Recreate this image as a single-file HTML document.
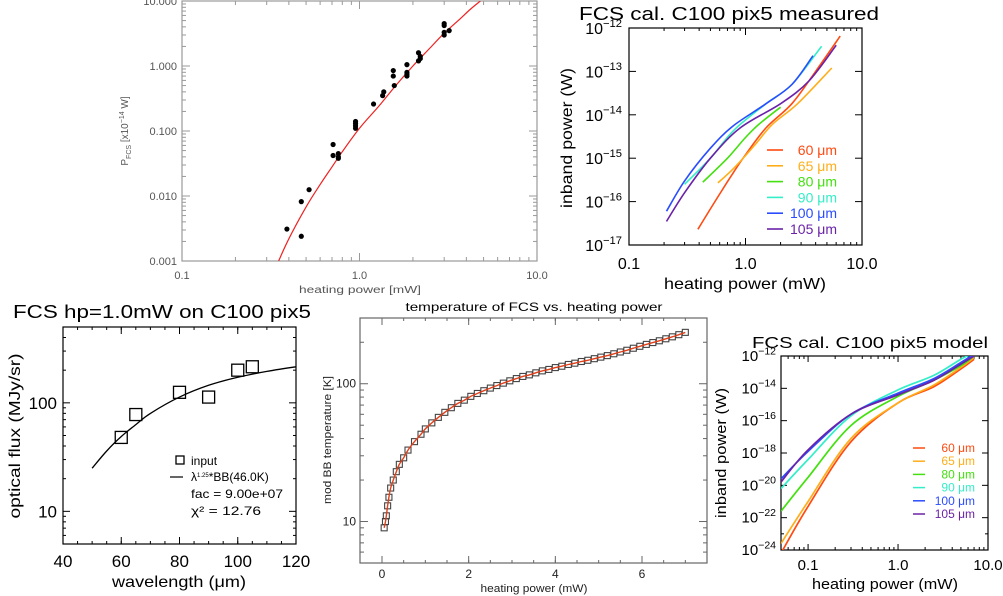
<!DOCTYPE html>
<html><head><meta charset="utf-8"><style>
html,body{margin:0;padding:0;background:#fff;}
svg{display:block;font-family:"Liberation Sans",sans-serif;}
</style></head><body>
<svg id="chart" width="1003" height="596" viewBox="0 0 1003 596" xmlns="http://www.w3.org/2000/svg"></svg>
<script>
// ---- Panel 1 data: P_FCS vs heating power ----
const p1X = [0.39,0.47,0.47,0.52,0.71,0.71,0.76,0.76,0.76,0.95,0.95,0.95,0.95,1.2,1.35,1.37,1.55,1.55,1.57,1.85,1.85,1.85,1.85,2.15,2.15,2.2,2.2,3.0,3.0,3.0,3.0,3.2];
const p1Y = [0.0031,0.0082,0.0024,0.0125,0.062,0.042,0.045,0.038,0.040,0.14,0.12,0.11,0.13,0.26,0.35,0.40,0.85,0.70,0.50,1.05,0.80,0.70,0.75,1.6,1.2,1.3,1.4,4.5,4.2,3.0,3.3,3.5];
const p1FitX = [0.35,0.4,0.5,0.6,0.7,0.8,1.0,1.3,1.6,2.0,2.5,3.0,3.6,4.2,4.8];
const p1FitY = [0.001,0.0022,0.0068,0.015,0.028,0.048,0.11,0.25,0.5,1.0,1.9,3.2,5.0,7.4,10];
const p1XTicks = [0.1,1,10], p1XLabels = ["0.1","1.0","10.0"];
const p1YTicks = [10,1,0.1,0.01,0.001], p1YLabels = ["10.000","1.000","0.100","0.010","0.001"];
// ---- Panel 2 data: measured inband power ----
const p2Names = ["60","65","80","90","100","105"];
const p2Colors = ["#ff4a10","#ffae1a","#44e010","#33eec8","#2a4cff","#6a22a8"];
const p2X = [
 [0.39,0.6,0.8,1.0,1.5,2.5,4,6.5],
 [0.58,0.8,1.2,1.7,2.8,5.5],
 [0.43,0.7,1.0,1.3,2.0],
 [0.3,0.5,0.8,1.5,2.5,4.5],
 [0.21,0.3,0.5,0.78,1.5,2.5,3.8],
 [0.21,0.3,0.5,0.9,2.0,3.5,6.0]];
const p2Y = [
 [2.3e-17,1.5e-16,5e-16,1.2e-15,5e-15,1.8e-14,1e-13,6.5e-13],
 [2.7e-16,6e-16,2e-15,6e-15,1.8e-14,1.2e-13],
 [2.8e-16,1e-15,3e-15,6e-15,1.5e-14],
 [2.5e-16,1e-15,4.5e-15,1.8e-14,5e-14,3.8e-13],
 [6e-17,3e-16,1.7e-15,5.5e-15,1.8e-14,5e-14,2.3e-13],
 [3.5e-17,1.6e-16,1e-15,5e-15,1.8e-14,6e-14,4e-13]];
const p2YExp = [-12,-13,-14,-15,-16,-17];
const p2XTicks = [0.1,1,10], p2XLabels = ["0.1","1.0","10.0"];
// ---- Panel 3 data: optical flux vs wavelength ----
const p3Wl = [60,65,80,90,100,105];
const p3Flux = [48,78,125,113,200,215];
const p3FitWl = [50,55,60,65,70,80,90,100,110,120];
const p3FitFlux = [25,36,49,63,80,113,145,172,195,215];
const p3XTicks = [40,60,80,100,120];
const p3YTicks = [100,10], p3YLabels = ["100","10"];
// ---- Panel 4 data: temperature vs heating power ----
const p4X = [0.05,0.08,0.1,0.13,0.16,0.2,0.26,0.33,0.4,0.5,0.6,0.75,0.9,1.0,1.15,1.3,1.45,1.6,1.75,1.9,2.05,2.2,2.35,2.5,2.65,2.8,2.95,3.1,3.25,3.4,3.55,3.7,3.85,4.0,4.15,4.3,4.45,4.6,4.75,4.9,5.05,5.2,5.35,5.5,5.65,5.8,5.95,6.1,6.25,6.4,6.55,6.7,6.85,7.0];
const p4T = [9.0,10,11,13,15,17.5,20,23,26,29,33,38,43,47,52,57,62,67,72,76,81,85,89,93,97,101,105,109,113,116,120,124,127,131,134,138,141,145,148,152,156,160,165,170,175,181,187,193,199,205,212,219,227,236];
const p4XTicks = [0,2,4,6];
const p4YTicks = [100,10], p4YLabels = ["100","10"];
// ---- Panel 5 data: model inband power (log10 W) ----
const p5X = [0.05,0.1,0.3,1,2.5,5,7];
const p5LogY = [
 [-24.2,-21.3,-17.3,-14.9,-13.9,-12.8,-12.2],
 [-23.6,-21.0,-17.1,-14.9,-13.8,-12.7,-12.1],
 [-21.6,-19.5,-16.3,-14.5,-13.5,-12.6,-12.0],
 [-20.2,-18.4,-15.7,-14.1,-13.2,-12.2,-11.8],
 [-19.6,-17.9,-15.6,-14.3,-13.4,-12.4,-11.9],
 [-19.8,-17.8,-15.6,-14.4,-13.5,-12.5,-12.0]];
const p5YExp = [-12,-14,-16,-18,-20,-22,-24];
const p5XTicks = [0.1,1,10], p5XLabels = ["0.1","1.0","10.0"];

const NS = "http://www.w3.org/2000/svg";
const svg = document.getElementById('chart');
function el(tag, attrs, parent){
  const e = document.createElementNS(NS, tag);
  for (const k in attrs) e.setAttribute(k, attrs[k]);
  (parent||svg).appendChild(e);
  return e;
}
function logS(d0,d1,p0,p1){ const a=Math.log10(d0), b=Math.log10(d1); return v => p0+(Math.log10(v)-a)/(b-a)*(p1-p0); }
function linS(d0,d1,p0,p1){ return v => p0+(v-d0)/(d1-d0)*(p1-p0); }
function txt(x,y,s,size,anchor,color,parent,len){
  const a = {x:x,y:y,'font-size':size,'text-anchor':anchor||'middle',fill:color||'#000'};
  if(len){a.textLength=len; a.lengthAdjust='spacingAndGlyphs';}
  const t = el('text',a,parent);
  t.textContent = s; return t;
}
function vtxt(cx,cy,s,size,color,parent,len){
  const t=el('text',{x:0,y:0,'font-size':size,fill:color,'text-anchor':'middle',transform:'translate('+cx+','+cy+') rotate(-90)',textLength:len,lengthAdjust:'spacingAndGlyphs'},parent);
  t.textContent=s; return t;
}
function expLabel(x,y,e,size,parent){
  const t = el('text',{x:x,y:y,'font-size':size,'text-anchor':'end'},parent);
  const a = el('tspan',{},t); a.textContent='10';
  const b = el('tspan',{dy:-size*0.45,'font-size':size*0.7},t); b.textContent='\u2212'+Math.abs(e);
  return t;
}
function box(g,L,T,R,B,color){
  const r = el('rect',{x:L,y:T,width:R-L,height:B-T,fill:'none',stroke:color,'stroke-width':1.2},g);
  
  
}
function tickX(g,x,T,B,len,color){
  el('line',{x1:x,y1:B,x2:x,y2:B-len,stroke:color},g);
  el('line',{x1:x,y1:T,x2:x,y2:T+len,stroke:color},g);
}
function tickY(g,y,L,R,len,color){
  el('line',{x1:L,y1:y,x2:L+len,y2:y,stroke:color},g);
  el('line',{x1:R,y1:y,x2:R-len,y2:y,stroke:color},g);
}
function logMinorX(g,sx,d0,d1,T,B,len,color){
  for(let e=Math.floor(Math.log10(d0));e<Math.log10(d1);e++) for(let m=2;m<10;m++){const v=m*Math.pow(10,e); if(v>d0&&v<d1) tickX(g,sx(v),T,B,len,color);}
}
function logMinorY(g,sy,d0,d1,L,R,len,color){
  for(let e=Math.floor(Math.log10(d0));e<Math.log10(d1);e++) for(let m=2;m<10;m++){const v=m*Math.pow(10,e); if(v>d0&&v<d1) tickY(g,sy(v),L,R,len,color);}
}
function poly(g,xs,ys,sx,sy,color,w){
  return el('polyline',{points:xs.map((x,i)=>sx(x).toFixed(1)+','+sy(ys[i]).toFixed(1)).join(' '),fill:'none',stroke:color,'stroke-width':w||1.3},g);
}
function smooth(g,xs,ys,sx,sy,color,w){
  const P = xs.map((x,i)=>[sx(x),sy(ys[i])]);
  let d='M'+P[0][0].toFixed(1)+','+P[0][1].toFixed(1);
  for(let i=0;i<P.length-1;i++){
    const p0=P[i-1]||P[i], p1=P[i], p2=P[i+1], p3=P[i+2]||P[i+1];
    const c1=[p1[0]+(p2[0]-p0[0])/6, p1[1]+(p2[1]-p0[1])/6];
    const c2=[p2[0]-(p3[0]-p1[0])/6, p2[1]-(p3[1]-p1[1])/6];
    d+=' C'+c1.map(v=>v.toFixed(1)).join(',')+' '+c2.map(v=>v.toFixed(1)).join(',')+' '+p2.map(v=>v.toFixed(1)).join(',');
  }
  return el('path',{d:d,fill:'none',stroke:color,'stroke-width':w||1.3},g);
}
function clip(id,L,T,R,B){
  const c = el('clipPath',{id:id}); el('rect',{x:L,y:T,width:R-L,height:B-T},c);
}

// ================= Panel 1 =================
{
  const g = el('g',{});
  
  
  const L=182,R=537,T=1,B=261, col='#999';
  const sx=logS(0.1,10,L,R), sy=logS(0.001,10,B,T);
  box(g,L,T,R,B,col);
  logMinorX(g,sx,0.1,10,T,B,4,col); logMinorY(g,sy,0.001,10,L,R,4,col);
  p1XTicks.forEach((v,i)=>{tickX(g,sx(v),T,B,8,col); const t=txt(sx(v),279,p1XLabels[i],11,'middle','#555',g);
     });
  p1YTicks.forEach((v,i)=>{tickY(g,sy(v),L,R,8,col); const t=txt(177,sy(v)+4,p1YLabels[i],11,'end','#555',g);
     });
  const xl = txt(360,293,'heating power [mW]',10,'middle','#555',g,122);
   
  const yl = el('text',{x:0,y:0,'font-size':10,fill:'#555','text-anchor':'middle',transform:'translate(128,131) rotate(-90)'},g);
   
  const a=el('tspan',{},yl); a.textContent='P';
  const b=el('tspan',{dy:3,'font-size':7},yl); b.textContent='FCS';
  const c=el('tspan',{dy:-3},yl); c.textContent=' [x10';
  const d=el('tspan',{dy:-4,'font-size':7},yl); d.textContent='\u221214';
  const e=el('tspan',{dy:4},yl); e.textContent=' W]';
  clip('c1',L,T,R,B);
  const fit = smooth(g,p1FitX,p1FitY,sx,sy,'#ee2222',1.2);
  fit.setAttribute('clip-path','url(#c1)');
   
  p1X.forEach((x,i)=>{const p=el('circle',{cx:sx(x),cy:sy(p1Y[i]),r:2.6,fill:'#000'},g);
     });
}

// ================= Panel 2 =================
{
  const g = el('g',{});
  
  
  const L=629,R=862,T=28,B=245;
  const sx=logS(0.1,10,L,R), sy=logS(1e-17,1e-12,B,T);
  const ti=txt(729,20,'FCS cal. C100 pix5 measured',18,'middle','#000',g,300);
   
  box(g,L,T,R,B,'#000');
  logMinorX(g,sx,0.1,10,T,B,3,'#000');
  p2XTicks.forEach((v,i)=>{tickX(g,sx(v),T,B,7,'#000'); const t=txt(sx(v),269,p2XLabels[i],16,'middle','#000',g);
     });
  p2YExp.forEach(e=>{const y=sy(Math.pow(10,e)); tickY(g,y,L,R,7,'#000'); const t=expLabel(622,y+6,e,16,g);
     });
  const xl=txt(745,289,'heating power (mW)',16,'middle','#000',g,162);
   
  const yl=vtxt(572,138,'inband power (W)',16,'#000',g,140);
   
  p2Names.forEach((n,i)=>{
    const s=smooth(g,p2X[i],p2Y[i],sx,sy,p2Colors[i],1.6);
     
    const y=150+i*15.8;
    const ll=el('line',{x1:767,y1:y,x2:783,y2:y,stroke:p2Colors[i],'stroke-width':1.6},g);
     
    const t=txt(837,y+5,n+' \u03bcm',14,'end',p2Colors[i],g);
     
  });
}

// ================= Panel 3 =================
{
  const g = el('g',{});
  
  
  const L=63,R=296,T=327,B=544;
  const sx=linS(40,120,L,R), sy=logS(5,500,B,T);
  const ti=txt(162,318,'FCS hp=1.0mW on C100 pix5',18,'middle','#000',g,298);
   
  box(g,L,T,R,B,'#000');
  for(let v=45;v<120;v+=5) tickX(g,sx(v),T,B,3,'#000');
  logMinorY(g,sy,5,500,L,R,3,'#000');
  p3XTicks.forEach(v=>{tickX(g,sx(v),T,B,7,'#000'); const t=txt(sx(v),567,String(v),17,'middle','#000',g);
     });
  p3YTicks.forEach((v,i)=>{tickY(g,sy(v),L,R,7,'#000'); const t=txt(57,sy(v)+6,p3YLabels[i],17,'end','#000',g);
     });
  const xl=txt(179,587,'wavelength (\u03bcm)',16,'middle','#000',g,134);
   
  const yl=vtxt(20,436,'optical flux (MJy/sr)',16,'#000',g,165);
   
  const f=smooth(g,p3FitWl,p3FitFlux,sx,sy,'#000',1.3);
   
  p3Wl.forEach((w,i)=>{const s=el('rect',{x:sx(w)-6,y:sy(p3Flux[i])-6,width:12,height:12,fill:'none',stroke:'#000','stroke-width':1.3},g);
     });
  const lg=el('g',{},g);
   
  el('rect',{x:176,y:456,width:8,height:8,fill:'none',stroke:'#000','stroke-width':1.3},lg);
  txt(191,465,'input',12,'start','#000',lg);
  el('line',{x1:170,y1:477,x2:183,y2:477,stroke:'#000','stroke-width':1.2},lg);
  const t2=el('text',{x:191,y:481,'font-size':12},lg);
  const s1=el('tspan',{},t2); s1.textContent='\u03bb';
  const s2=el('tspan',{dy:-4,'font-size':6},t2); s2.textContent='1.25';
  const s3=el('tspan',{dy:4},t2); s3.textContent='*BB(46.0K)';
  txt(191,498,'fac  =  9.00e+07',12,'start','#000',lg,92);
  txt(191,515,'\u03c7\u00b2  =    12.76',12,'start','#000',lg,70);
}

// ================= Panel 4 =================
{
  const g = el('g',{});
  
  
  const L=360,R=707,T=318,B=563;
  const sx=linS(0,6,382,642), sy=logS(5,300,B,T);
  const ti=txt(534,311,'temperature of FCS vs. heating power',12,'middle','#000',g,257);
   
  box(g,L,T,R,B,'#666');
  for(let v=0.5;v<7.5;v+=0.5) tickX(g,sx(v),T,B,3,'#666');
  logMinorY(g,sy,5,300,L,R,4,'#666');
  p4XTicks.forEach(v=>{tickX(g,sx(v),T,B,7,'#666'); const t=txt(sx(v),578,String(v),12,'middle','#222',g);
     });
  p4YTicks.forEach((v,i)=>{tickY(g,sy(v),L,R,8,'#666'); const t=txt(356,sy(v)+4,p4YLabels[i],12,'end','#222',g);
     });
  const xl=txt(534,592,'heating power (mW)',11,'middle','#222',g,107);
   
  const yl=vtxt(331,440,'mod BB temperature [K]',11,'#222',g,128);
   
  p4X.forEach((x,i)=>{const s=el('rect',{x:sx(x)-3,y:sy(p4T[i])-3,width:6,height:6,fill:'none',stroke:'#444','stroke-width':1.1},g);
     });
  const l=smooth(g,p4X,p4T,sx,sy,'#e0401a',1.4);
   
}

// ================= Panel 5 =================
{
  const g = el('g',{});
  
  
  const L=781,R=988,T=356,B=550;
  const sx=logS(0.05,10,L,R), sy=v=>T+(-12-v)/12*(B-T);
  const ti=txt(870,348,'FCS cal. C100 pix5 model',16,'middle','#000',g,236);
   
  box(g,L,T,R,B,'#000');
  logMinorX(g,sx,0.05,10,T,B,3,'#000');
  for(let e=-23;e>-24.5;e-=2) tickY(g,sy(e),L,R,3,'#000');
  p5XTicks.forEach((v,i)=>{tickX(g,sx(v),T,B,6,'#000'); const t=txt(sx(v),570,p5XLabels[i],15,'middle','#000',g);
     });
  p5YExp.forEach(e=>{const y=sy(e); tickY(g,y,L,R,6,'#000'); const t=expLabel(776,y+5,e,15,g);
     });
  const xl=txt(885,589,'heating power (mW)',15,'middle','#000',g,146);
   
  const yl=vtxt(726,453,'inband power (W)',15,'#000',g,130);
   
  clip('c5',L,T,R,B);
  p2Names.forEach((n,i)=>{
    const s=smooth(g,p5X,p5LogY[i],sx,sy,p2Colors[i],1.7);
    s.setAttribute('clip-path','url(#c5)');
     
    const y=448+i*13.2;
    const ll=el('line',{x1:913,y1:y,x2:925,y2:y,stroke:p2Colors[i],'stroke-width':1.5},g);
     
    const t=txt(975,y+4,n+' \u03bcm',12,'end',p2Colors[i],g);
     
  });
}
</script>
</body></html>
